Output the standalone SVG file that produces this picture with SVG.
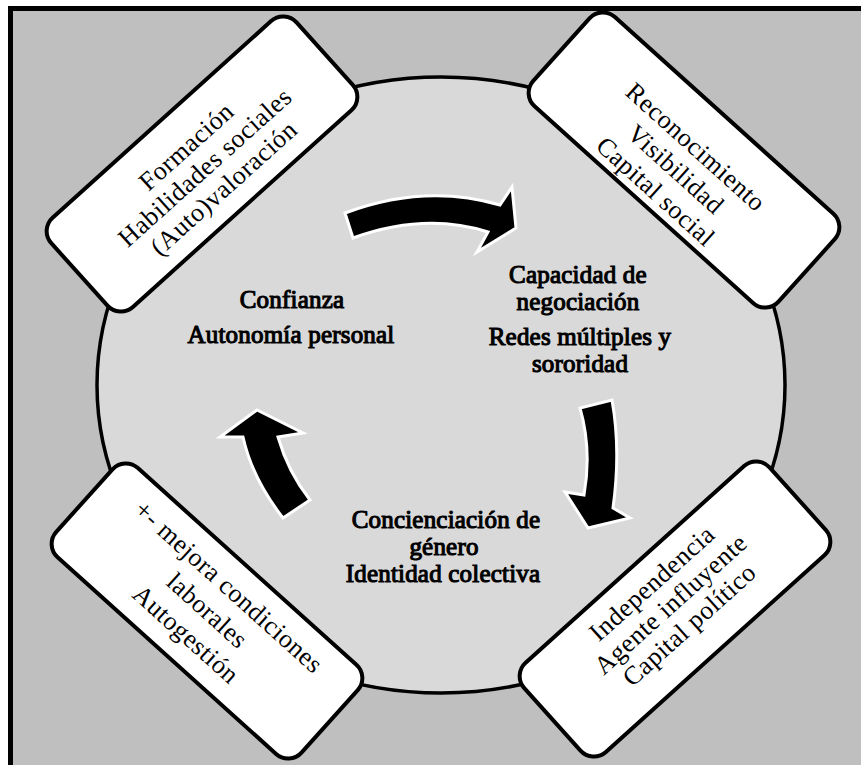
<svg xmlns="http://www.w3.org/2000/svg" width="861" height="765" viewBox="0 0 861 765">
<style>
.box{fill:#ffffff;stroke:#000000;stroke-width:4}
.bt{font-family:"Liberation Serif",serif;font-size:26px;letter-spacing:0.5px;text-anchor:middle;fill:#000}
.ct{font-family:"Liberation Serif",serif;font-size:25px;font-weight:normal;letter-spacing:0.2px;text-anchor:middle;fill:#000;stroke:#000;stroke-width:1.1px}
.arr{fill:#000;stroke:#ffffff;stroke-width:3;stroke-linejoin:miter}
</style>
<rect x="0" y="0" width="861" height="765" fill="#ffffff"/>
<rect x="10.5" y="8.5" width="880" height="800" fill="#bfbfbf" stroke="#000" stroke-width="5"/>
<ellipse cx="441" cy="385" rx="344" ry="308" fill="#d9d9d9" stroke="#000" stroke-width="3.5"/>
<g id="connectors">
<path class="arr" d="M345,213 Q425,183 500,205 L512,187 L516,228 L477,252 L488,232 Q425,212 353,238 Z"/>
<path class="arr" d="M580,408 Q592,450 584,495 L565,492 L588,528 L630,518 L613,508 Q621,450 612,400 Z"/>
<path class="arr" d="M283,518 Q252,478 243,437 L220,437 L257,410 L303,433 L278,437 Q288,472 310,500 Z"/>
</g>
<g id="n-formacion" transform="translate(202,164) rotate(-42)">
<rect class="box" x="-165" y="-60" width="330" height="120" rx="18"/>
<text class="bt" x="0" y="-15">Formación</text>
<text class="bt" x="0" y="13">Habilidades sociales</text>
<text class="bt" x="0" y="41">(Auto)valoración</text>
</g>
<g id="n-reconocimiento" transform="translate(684,160) rotate(42)">
<rect class="box" x="-165" y="-60" width="330" height="120" rx="18"/>
<text class="bt" x="0" y="-9">Reconocimiento</text>
<text class="bt" x="0" y="21">Visibilidad</text>
<text class="bt" x="0" y="51">Capital social</text>
</g>
<g id="n-mejora" transform="translate(207,611) rotate(42)">
<rect class="box" x="-165" y="-60" width="330" height="120" rx="18"/>
<text class="bt" x="0" y="-24">+- mejora condiciones</text>
<text class="bt" x="0" y="8">laborales</text>
<text class="bt" x="0" y="40">Autogestión</text>
</g>
<g id="n-independencia" transform="translate(675,609) rotate(-42)">
<rect class="box" x="-165" y="-60" width="330" height="120" rx="18"/>
<text class="bt" x="0" y="-26">Independencia</text>
<text class="bt" x="0" y="2">Agente influyente</text>
<text class="bt" x="0" y="30">Capital político</text>
</g>
<g id="n-confianza">
<text class="ct" x="292" y="308">Confianza</text>
<text class="ct" x="291" y="343">Autonomía personal</text>
</g>
<g id="n-capacidad">
<text class="ct" x="578" y="283">Capacidad de</text>
<text class="ct" x="578" y="310">negociación</text>
<text class="ct" x="580" y="345">Redes múltiples y</text>
<text class="ct" x="580" y="372">sororidad</text>
</g>
<g id="n-concienciacion">
<text class="ct" x="446" y="528">Concienciación de</text>
<text class="ct" x="444" y="555">género</text>
<text class="ct" x="443" y="582">Identidad colectiva</text>
</g>
</svg>
